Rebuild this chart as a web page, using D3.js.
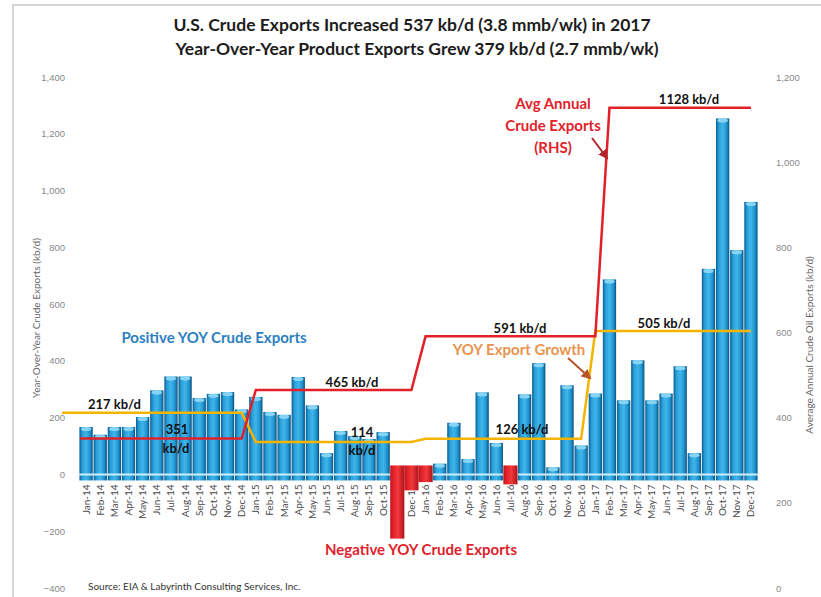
<!DOCTYPE html>
<html>
<head>
<meta charset="utf-8">
<script src="https://cdn.jsdelivr.net/npm/d3@7"></script>
<style>
  body { margin: 0; background: #fff; }
  svg { font-family: Lato, "Open Sans", sans-serif; }
  .tick text { fill: #888; font-size: 9.5px; }
  .lbl { font-weight: bold; font-size: 13px; fill: #111; }
</style>
</head>
<body>
<div id="chart"></div>
<script>
// month categories / tick labels
var monthNames = ["Jan","Feb","Mar","Apr","May","Jun","Jul","Aug","Sep","Oct","Nov","Dec"];
var years = ["14","15","16","17"];
var months = [];
years.forEach(function(y){ monthNames.forEach(function(m){ months.push(m + "-" + y); }); });

// year-over-year crude exports, kb/d (left axis)
var yoyCrude = [
  167, 140, 167, 167, 202, 296, 345, 345, 269, 284, 290, 229,
  273, 220, 210, 343, 243, 75, 153, 135, 125, 149, -226, -56,
  -27, 38, 182, 54, 289, 111, -35, 282, 392, 25, 314, 102,
  285, 687, 261, 402, 261, 285, 381, 75, 724, 1254, 790, 960
];

// average annual crude exports (RHS) and YOY export growth (LHS)
var avgCrude = [351, 465, 591, 1128];
var avgCrudeSpans = [["Jan-14","Dec-14"],["Jan-15","Dec-15"],["Jan-16","Jan-17"],["Feb-17","Dec-17"]];
var yoyGrowth = [217, 114, 126, 505];
var yoyGrowthSpans = [["Jan-14","Dec-14"],["Jan-15","Dec-15"],["Jan-16","Dec-16"],["Jan-17","Dec-17"]];

var leftTicks = [-400, -200, 0, 200, 400, 600, 800, 1000, 1200, 1400];
var rightTicks = [0, 200, 400, 600, 800, 1000, 1200];

var W = 821, H = 597;
var svg = d3.select("#chart").append("svg").attr("width", W).attr("height", H);

// outer chart border
svg.append("rect").attr("x", 13).attr("y", 5).attr("width", 900).attr("height", 700)
  .attr("fill", "none").attr("stroke", "#d6d6d6").attr("stroke-width", 2);

var x = d3.scaleBand().domain(months).range([79, 758]).paddingInner(0.06).paddingOuter(0.03);
var yL = d3.scaleLinear().domain([-400, 1400]).range([588, 77]);
var yR = d3.scaleLinear().domain([0, 1200]).range([588, 77]);
function cx(m){ return x(m) + x.bandwidth() / 2; }

var defs = svg.append("defs");
var gb = defs.append("linearGradient").attr("id", "blueG");
[[0,"#0b5f96"],[0.22,"#2a9fd8"],[0.5,"#3fb6ea"],[0.8,"#1f93cf"],[1,"#09517f"]].forEach(function(s){
  gb.append("stop").attr("offset", s[0]).attr("stop-color", s[1]);
});
var gr = defs.append("linearGradient").attr("id", "redG");
[[0,"#c0141c"],[0.25,"#e5232a"],[0.55,"#f03a3b"],[1,"#b0111a"]].forEach(function(s){
  gr.append("stop").attr("offset", s[0]).attr("stop-color", s[1]);
});
defs.append("marker").attr("id", "arrRed").attr("viewBox", "0 0 10 10").attr("refX", 8).attr("refY", 5)
  .attr("markerWidth", 5).attr("markerHeight", 5).attr("orient", "auto")
  .append("path").attr("d", "M0,0 L10,5 L0,10 z").attr("fill", "#b3262c");
defs.append("marker").attr("id", "arrOr").attr("viewBox", "0 0 10 10").attr("refX", 8).attr("refY", 5)
  .attr("markerWidth", 5).attr("markerHeight", 5).attr("orient", "auto")
  .append("path").attr("d", "M0,0 L10,5 L0,10 z").attr("fill", "#b8562a");

// x labels (partly tucked under the floor like the original)
svg.append("g").selectAll("text").data(months).enter().append("text")
  .attr("transform", function(d){ return "translate(" + (cx(d) + 3.5) + "," + (yL(0) + 10) + ") rotate(-90)"; })
  .attr("text-anchor", "end").attr("font-size", "10px").attr("fill", "#4a4a4a")
  .text(function(d){ return d; });

// floor under every column
svg.append("g").selectAll("rect").data(months).enter().append("rect")
  .attr("x", function(d){ return x(d); }).attr("width", x.bandwidth())
  .attr("y", yL(0) - 1).attr("height", 7).attr("fill", "url(#blueG)");

var data = months.map(function(m, i){ return {m: m, v: yoyCrude[i]}; });
var pos = data.filter(function(d){ return d.v >= 0; });
var neg = data.filter(function(d){ return d.v < 0; });

svg.append("g").selectAll("rect").data(pos).enter().append("rect")
  .attr("x", function(d){ return x(d.m); }).attr("width", x.bandwidth())
  .attr("y", function(d){ return yL(d.v); })
  .attr("height", function(d){ return yL(0) - yL(d.v); })
  .attr("fill", "url(#blueG)");
svg.append("g").selectAll("ellipse").data(pos).enter().append("ellipse")
  .attr("cx", function(d){ return cx(d.m); }).attr("cy", function(d){ return yL(d.v) + 2; })
  .attr("rx", x.bandwidth() / 2 - 1.5).attr("ry", 2)
  .attr("fill", "#86d3f3");

// zero line
svg.append("line").attr("x1", x.range()[0]).attr("x2", x.range()[1])
  .attr("y1", yL(0)).attr("y2", yL(0)).attr("stroke", "#cdeefb").attr("stroke-width", 2);

// negative columns fill the whole band so neighbours join up
svg.append("g").selectAll("rect").data(neg).enter().append("rect")
  .attr("x", function(d){ return cx(d.m) - x.step() / 2; }).attr("width", x.step())
  .attr("y", yL(0) - 9)
  .attr("height", function(d){ return yL(d.v) - yL(0) + 9; })
  .attr("fill", "url(#redG)");

// axes
var axL = svg.append("g").attr("transform", "translate(68,0)")
  .call(d3.axisLeft(yL).tickValues(leftTicks).tickFormat(d3.format(",")).tickSize(0));
axL.select(".domain").remove();
var axR = svg.append("g").attr("transform", "translate(775,0)")
  .call(d3.axisRight(yR).tickValues(rightTicks).tickFormat(d3.format(",")).tickSize(0).tickPadding(1));
axR.select(".domain").remove();

svg.append("text").attr("transform", "translate(40,318) rotate(-90)").attr("text-anchor", "middle")
  .attr("font-size", "10px").attr("fill", "#666").text("Year-Over-Year Crude Exports (kb/d)");
svg.append("text").attr("transform", "translate(813,345) rotate(-90)").attr("text-anchor", "middle")
  .attr("font-size", "10px").attr("fill", "#666").text("Average Annual Crude Oil Exports (kb/d)");

// step lines
function stepPts(vals, spans, sc, x0){
  var pts = [];
  vals.forEach(function(v, i){
    pts.push([i === 0 ? x0 : cx(spans[i][0]), sc(v)]);
    pts.push([cx(spans[i][1]), sc(v)]);
  });
  return pts;
}
var line = d3.line();
svg.append("path").attr("d", line(stepPts(yoyGrowth, yoyGrowthSpans, yL, 62)))
  .attr("fill", "none").attr("stroke", "#f4b400").attr("stroke-width", 2.5);
svg.append("path").attr("d", line(stepPts(avgCrude, avgCrudeSpans, yR, x.range()[0] + 1)))
  .attr("fill", "none").attr("stroke", "#e3202a").attr("stroke-width", 2.5);

// value labels
function lbl(t, xx, yy, anchor){
  svg.append("text").attr("class", "lbl").attr("x", xx).attr("y", yy)
    .attr("text-anchor", anchor || "middle").text(t);
}
lbl("217 kb/d", 88, 409, "start");
lbl("351", 177, 434);
lbl("kb/d", 176, 453);
lbl("465 kb/d", 352, 387);
lbl("114", 362, 437);
lbl("kb/d", 362, 455);
lbl("126 kb/d", 522, 434);
lbl("591 kb/d", 520, 333);
lbl("505 kb/d", 664, 328);
lbl("1128 kb/d", 689, 104);

// annotations
svg.append("text").attr("x", 214).attr("y", 343).attr("text-anchor", "middle")
  .attr("font-size", "15px").attr("font-weight", "bold").attr("fill", "#2c7fc0")
  .text("Positive YOY Crude Exports");
svg.append("text").attr("x", 421).attr("y", 555).attr("text-anchor", "middle")
  .attr("font-size", "15px").attr("font-weight", "bold").attr("fill", "#e0222a")
  .text("Negative YOY Crude Exports");
svg.append("text").attr("x", 519).attr("y", 355).attr("text-anchor", "middle")
  .attr("font-size", "15px").attr("font-weight", "bold").attr("fill", "#ea9350")
  .text("YOY Export Growth");
["Avg Annual", "Crude Exports", "(RHS)"].forEach(function(t, i){
  svg.append("text").attr("x", 553).attr("y", 109 + i * 22).attr("text-anchor", "middle")
    .attr("font-size", "15px").attr("font-weight", "bold").attr("fill", "#e0222a").text(t);
});
svg.append("line").attr("x1", 592).attr("y1", 138).attr("x2", 607).attr("y2", 158)
  .attr("stroke", "#b3262c").attr("stroke-width", 2).attr("marker-end", "url(#arrRed)");
svg.append("line").attr("x1", 568).attr("y1", 358).attr("x2", 590).attr("y2", 378)
  .attr("stroke", "#b8562a").attr("stroke-width", 2).attr("marker-end", "url(#arrOr)");

// title
svg.append("text").attr("x", 412).attr("y", 31).attr("text-anchor", "middle")
  .attr("font-size", "17.5px").attr("font-weight", "bold").attr("fill", "#1c1c1c")
  .text("U.S. Crude Exports Increased 537 kb/d (3.8 mmb/wk) in 2017");
svg.append("text").attr("x", 417).attr("y", 55).attr("text-anchor", "middle")
  .attr("font-size", "17.5px").attr("font-weight", "bold").attr("fill", "#1c1c1c")
  .text("Year-Over-Year Product Exports Grew 379 kb/d (2.7 mmb/wk)");

svg.append("text").attr("x", 88).attr("y", 590).attr("font-size", "10px").attr("fill", "#333")
  .text("Source:  EIA & Labyrinth Consulting Services, Inc.");
</script>
</body>
</html>
